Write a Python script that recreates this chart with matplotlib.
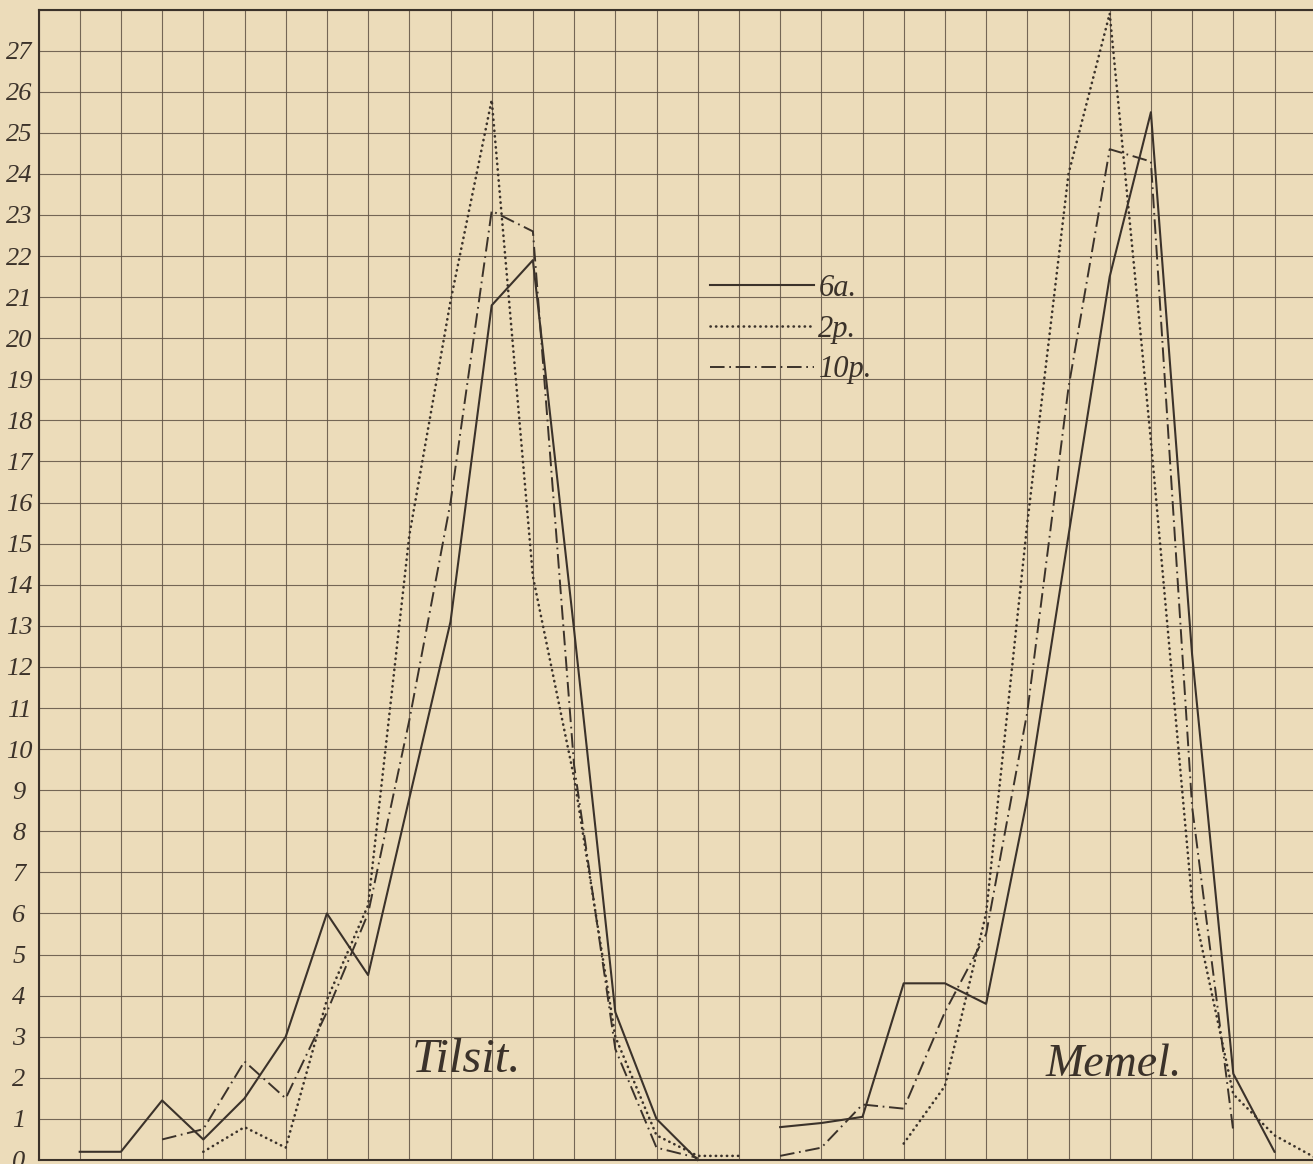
import matplotlib.pyplot as plt

# column index on the grid -> value
tilsit_x_6a = list(range(1, 17))
tilsit_6a = [0.2, 0.2, 1.45, 0.5, 1.5, 3.0, 6.0, 4.5, 8.8, 13.1, 20.8, 21.9, 12.9, 3.6, 1.0, 0.0]
tilsit_x_2p = list(range(4, 18))
tilsit_2p = [0.2, 0.8, 0.3, 3.9, 6.2, 15.2, 20.9, 25.8, 14.2, 9.3, 3.0, 0.6, 0.1, 0.1]
tilsit_x_10p = list(range(3, 17))
tilsit_10p = [0.5, 0.75, 2.4, 1.5, 3.6, 6.0, 10.7, 16.0, 23.1, 22.6, 9.6, 2.7, 0.3, 0.05]

memel_x_6a = list(range(18, 31))
memel_6a = [0.8, 0.9, 1.05, 4.3, 4.3, 3.8, 8.8, 15.2, 21.5, 25.5, 12.3, 2.1, 0.2]
memel_x_2p = list(range(21, 32))
memel_2p = [0.4, 1.8, 6.0, 15.5, 24.0, 27.9, 17.5, 6.3, 1.6, 0.6, 0.05]
memel_x_10p = list(range(18, 30))
memel_10p = [0.1, 0.3, 1.35, 1.25, 3.6, 5.5, 10.9, 18.8, 24.6, 24.3, 8.6, 0.7]

y_labels = [str(i) for i in range(28)]
legend_labels = ["6a.", "2p.", "10p."]

paper = "#ecdcba"
ink = "#3b322a"
gridc = "#5f5244"

plt.rcParams['font.family'] = ['Liberation Serif', 'DejaVu Serif']

fig = plt.figure(figsize=(13.13, 11.64), dpi=100, facecolor=paper)
ax = fig.add_axes([38.5/1313, 4/1164, 1274.5/1313, 1150.5/1164])
ax.set_facecolor(paper)
ax.set_xlim(0, 1274.5/41.2)
ax.set_ylim(0, 28)

ax.set_xticks(range(0, 31))
ax.set_yticks(range(0, 29))
ax.set_yticklabels(y_labels + [""])
ax.tick_params(axis='both', length=0)
ax.tick_params(axis='x', labelbottom=False)
ax.tick_params(axis='y', pad=14, labelsize=19, labelcolor=ink)
for lbl in ax.get_yticklabels():
    lbl.set_ha('center')
    lbl.set_fontstyle('italic')
ax.grid(True, color=gridc, lw=0.8, alpha=0.85)
ax.set_axisbelow(True)
ax.spines['right'].set_visible(False)
for s in ['left', 'top', 'bottom']:
    ax.spines[s].set_color(ink)
    ax.spines[s].set_linewidth(1.5)

solid = dict(color=ink, lw=1.5, ls='-', clip_on=False)
dotted = dict(color=ink, lw=1.9, ls=(0, (0.1, 2.0)), dash_capstyle='round', clip_on=False)
dashdot = dict(color=ink, lw=1.4, ls=(0, (7.5, 2.4, 0.9, 2.4)), clip_on=False)

l1, = ax.plot(tilsit_x_6a, tilsit_6a, **solid)
l2, = ax.plot(tilsit_x_2p, tilsit_2p, **dotted)
l3, = ax.plot(tilsit_x_10p, tilsit_10p, **dashdot)
ax.plot(memel_x_6a, memel_6a, **solid)
ax.plot(memel_x_2p, memel_2p, **dotted)
ax.plot(memel_x_10p, memel_10p, **dashdot)

ax.text(9.05, 2.15, "Tilsit.", fontsize=35, style='italic', color=ink)
ax.text(24.45, 2.05, "Memel.", fontsize=33, style='italic', color=ink)

ax.legend([l1, l2, l3], legend_labels, loc='upper left',
          bbox_to_anchor=(710/1313, (1164-274)/1164), bbox_transform=fig.transFigure,
          frameon=False, prop={'style': 'italic', 'size': 22}, labelcolor=ink,
          handlelength=3.4, handletextpad=0.15, labelspacing=0.38,
          borderpad=0, borderaxespad=0)

fig.savefig("out.png", dpi=100, facecolor=paper)
